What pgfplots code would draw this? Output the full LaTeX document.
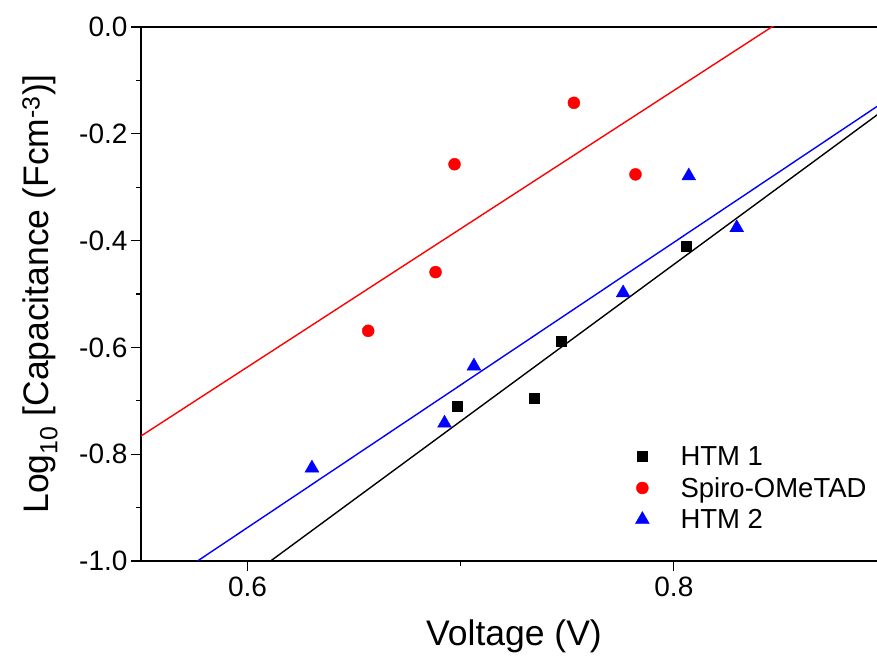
\documentclass[border=0pt]{standalone}
\usepackage{pgfplots}
\pgfplotsset{compat=1.18}
\usepackage{fontspec}
\setmainfont{Liberation Sans}
\usetikzlibrary{calc}
\pgfplotsset{mylegimg/.style={legend image code/.code={\draw[##1] plot coordinates {(28bp,0bp)}; \path (0bp,0bp) (64bp,0bp);}}}
\begin{document}
\begin{tikzpicture}
\begin{axis}[
  scale only axis, width=746bp, height=534bp,
  xmin=0.55, xmax=0.9, ymin=-1, ymax=0,
  axis x line*=box, axis y line*=left,
  xtick pos=bottom,
  xtick={0.6,0.8}, xticklabels={0.6,0.8}, minor xtick={0.7},
  ytick={-1,-0.8,-0.6,-0.4,-0.2,0}, yticklabels={-1.0,-0.8,-0.6,-0.4,-0.2,0.0},
  minor ytick={-0.9,-0.7,-0.5,-0.3,-0.1},
  tick align=outside,
  major tick length=10bp, minor tick length=5bp,
  every tick/.style={black, line width=1.2bp},
  axis line style={line width=1.6bp},
  xticklabel style={font=\fontsize{28bp}{34bp}\selectfont, yshift=-2bp},
  yticklabel style={font=\fontsize{28bp}{34bp}\selectfont},
  xlabel={Voltage (V)},
  ylabel={Log\textsubscript{10} [Capacitance (Fcm\textsuperscript{-3})]},
  every axis x label/.style={at={(axis description cs:0.5,-0.1404)}, anchor=center, font=\fontsize{35.5bp}{40bp}\selectfont},
  every axis y label/.style={at={(axis description cs:-0.1354,0.5)}, rotate=90, anchor=center, font=\fontsize{35.5bp}{40bp}\selectfont},
  legend style={at={(rel axis cs:0.630,0.2225)}, anchor=north west, draw=none, fill=none,
    font=\fontsize{27.5bp}{32bp}\selectfont, row sep=6.5bp},
  legend cell align=left,
  clip=true,
]
% fit lines
\addplot[black, line width=1.4bp, forget plot] coordinates {(0.55,-1.1785) (0.9,-0.151)};
\addplot[red, line width=1.4bp, forget plot] coordinates {(0.55,-0.766) (0.9,0.140)};
\addplot[blue, line width=1.4bp, forget plot] coordinates {(0.55,-1.0708) (0.9,-0.1363)};
% data
\addplot[only marks, mark=square*, mark size=5bp, black, mark options={fill=black}, mylegimg] coordinates {
(0.6982,-0.710) (0.7343,-0.695) (0.7470,-0.588) (0.8060,-0.410)};
\addlegendentry{HTM 1}
\addplot[only marks, mark=*, mark size=6bp, red, mark options={fill=red}, mylegimg] coordinates {
(0.6566,-0.569) (0.6882,-0.459) (0.6971,-0.257) (0.7531,-0.142) (0.7820,-0.276)};
\addlegendentry{Spiro-OMeTAD}
\addplot[only marks, mark=triangle*, mark size=8bp, blue, mark options={fill=blue}, mylegimg] coordinates {
(0.6302,-0.826) (0.6924,-0.742) (0.7062,-0.635) (0.7762,-0.498) (0.8070,-0.279) (0.8295,-0.376)};
\addlegendentry{HTM 2}
\end{axis}
\pgfresetboundingbox
\path ($(current axis.south west)+(-141bp,-95bp)$) rectangle ($(current axis.north east)+(-10bp,27bp)$);
\end{tikzpicture}
\end{document}
